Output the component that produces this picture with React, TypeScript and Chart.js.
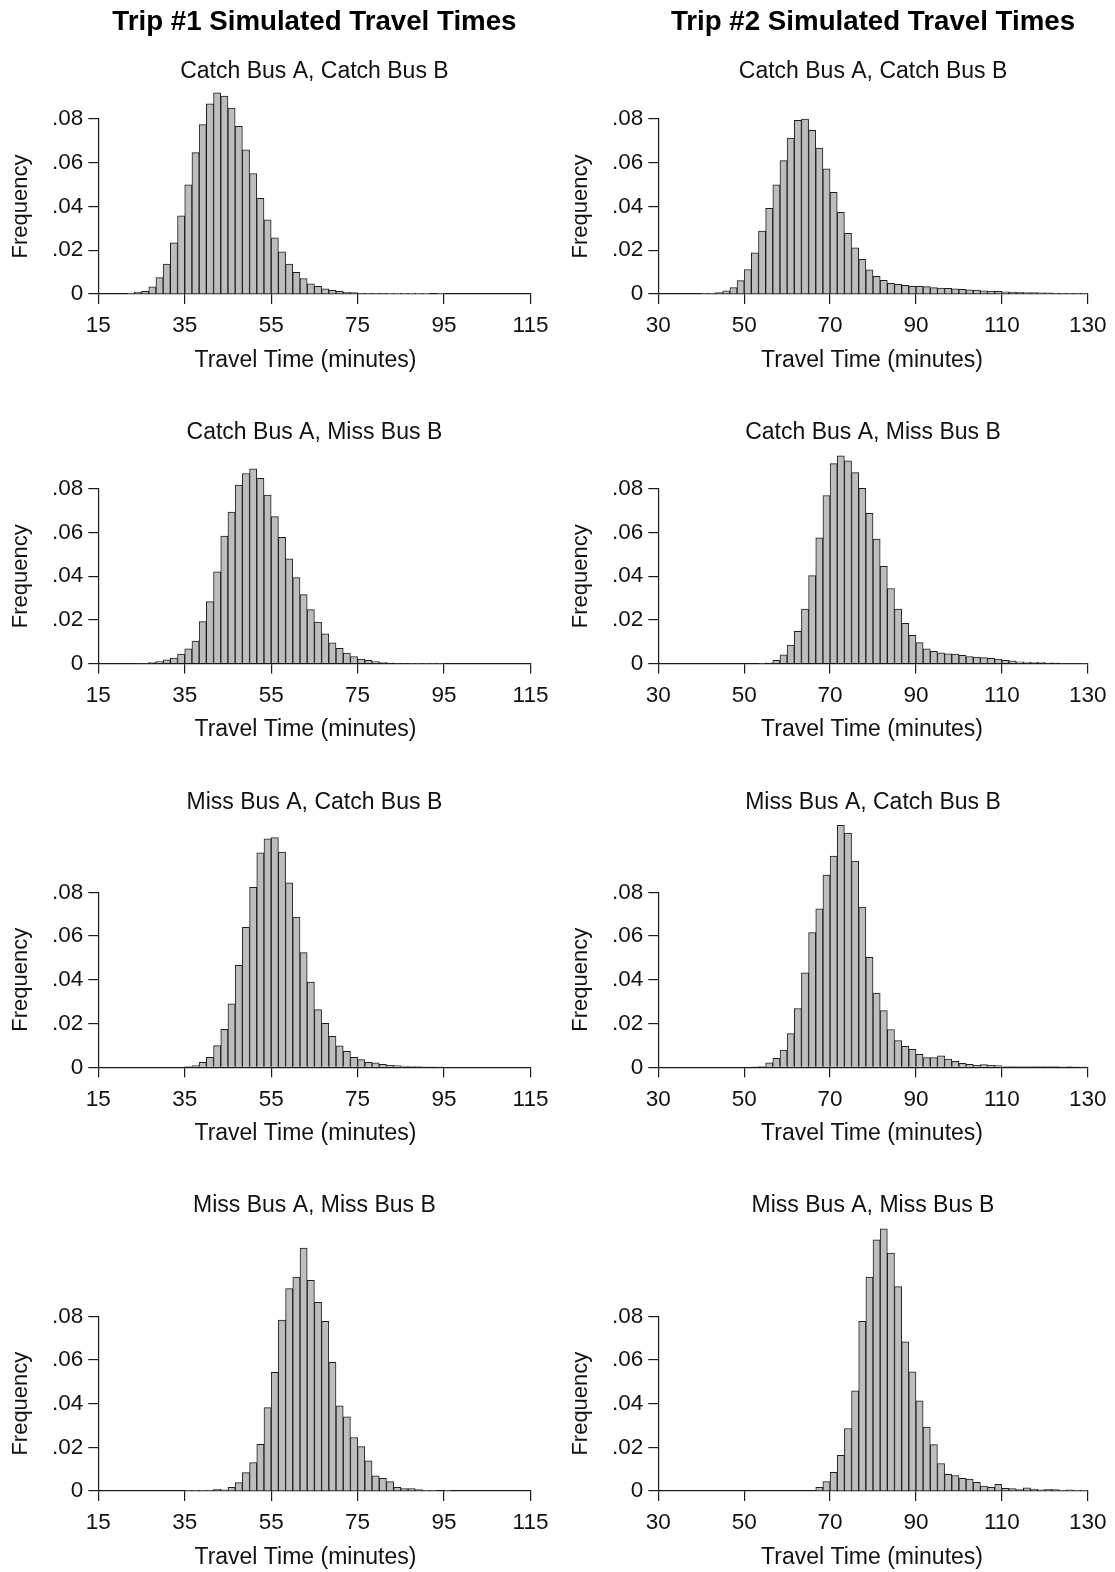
import React, { useEffect, useRef } from 'react';
import { Chart, registerables } from 'chart.js';

Chart.register(...registerables);

// ---------------- DATA ----------------
const binWidth = 5 / 3; // minutes per histogram bin

const trip1Ticks = [15, 35, 55, 75, 95, 115];
const trip2Ticks = [30, 50, 70, 90, 110, 130];
const freqTicks = [0, 0.02, 0.04, 0.06, 0.08];

const tripTitles = ['Trip #1 Simulated Travel Times', 'Trip #2 Simulated Travel Times'];
const scenarios = [
  'Catch Bus A, Catch Bus B',
  'Catch Bus A, Miss Bus B',
  'Miss Bus A, Catch Bus B',
  'Miss Bus A, Miss Bus B',
];

// first bin left edge (minutes)
const trip1Starts = [21.667, 23.333, 35, 35];
const trip2Starts = [40, 53.333, 51.667, 66.667];

const trip1CatchCatch = [
  0.0002, 0.0008, 0.0012, 0.0033, 0.0075, 0.0137, 0.0234, 0.0357, 0.0499, 0.0646,
  0.0774, 0.0869, 0.0920, 0.0905, 0.0850, 0.0767, 0.0659, 0.0551, 0.0437, 0.0339,
  0.0257, 0.0193, 0.0137, 0.0099, 0.0071, 0.0047, 0.0035, 0.0024, 0.0017, 0.0012,
  0.0008, 0.0006, 0.0003, 0.0003, 0.0002, 0.0002, 0.0001, 0.0001, 0.0001, 0.0001,
  0.0001, 0.0001, 0.0, 0.0001,
];
const trip1CatchMiss = [
  0.00015, 0.00015, 0.0005, 0.0009, 0.0017, 0.0025, 0.0043, 0.0067, 0.0103, 0.0192,
  0.0284, 0.0420, 0.0584, 0.0694, 0.0818, 0.0871, 0.0892, 0.0849, 0.0772, 0.0673,
  0.0578, 0.0480, 0.0394, 0.0316, 0.0247, 0.0190, 0.0136, 0.0095, 0.0070, 0.0048,
  0.0032, 0.0020, 0.0014, 0.0009, 0.0005, 0.0003, 0.0002, 0.0002, 0.0001, 0.0001,
  0.0001, 0.0001, 0.0001,
];
const trip1MissCatch = [
  0.0003, 0.0008, 0.0023, 0.0046, 0.0099, 0.0174, 0.0290, 0.0466, 0.0640, 0.0823,
  0.0981, 0.1044, 0.1050, 0.0984, 0.0843, 0.0687, 0.0524, 0.0390, 0.0264, 0.0201,
  0.0142, 0.0098, 0.0073, 0.0046, 0.0035, 0.0023, 0.0020, 0.0014, 0.0009, 0.0008,
  0.0006, 0.0005, 0.0003, 0.0002, 0.0002, 0.0001,
];
const trip1MissMiss = [
  0.0002, 0.0002, 0.0003, 0.0003, 0.0008, 0.0005, 0.0017, 0.0038, 0.0084, 0.0130,
  0.0214, 0.0382, 0.0543, 0.0783, 0.0927, 0.0980, 0.1112, 0.0965, 0.0864, 0.0777,
  0.0589, 0.0390, 0.0340, 0.0245, 0.0203, 0.0138, 0.0070, 0.0058, 0.0043, 0.0017,
  0.0011, 0.0011, 0.0006, 0.0003, 0.0002, 0.0, 0.0003,
];

const trip2CatchCatch = [
  0.0002, 0.0003, 0.0006, 0.0015, 0.0029, 0.0061, 0.0112, 0.0188, 0.0288, 0.0392,
  0.0499, 0.0610, 0.0713, 0.0794, 0.0800, 0.0748, 0.0667, 0.0572, 0.0465, 0.0373,
  0.0277, 0.0211, 0.0158, 0.0110, 0.0081, 0.0063, 0.0049, 0.0044, 0.0040, 0.0035,
  0.0035, 0.0034, 0.0029, 0.0027, 0.0026, 0.0024, 0.0021, 0.0019, 0.0018, 0.0015,
  0.0013, 0.0012, 0.0010, 0.0009, 0.0008, 0.0007, 0.0006, 0.0005, 0.0005, 0.0004,
  0.0003, 0.0003, 0.0002, 0.0002,
];
const trip2CatchMiss = [
  0.0001, 0.0003, 0.0015, 0.0040, 0.0084, 0.0148, 0.0249, 0.0403, 0.0576, 0.0770,
  0.0916, 0.0952, 0.0929, 0.0875, 0.0803, 0.0688, 0.0570, 0.0446, 0.0344, 0.0249,
  0.0184, 0.0129, 0.0096, 0.0067, 0.0056, 0.0049, 0.0044, 0.0043, 0.0038, 0.0032,
  0.0030, 0.0027, 0.0024, 0.0020, 0.0015, 0.0012, 0.0008, 0.0006, 0.0005, 0.0005,
  0.0003, 0.0003, 0.0002, 0.0002, 0.0002, 0.0001,
];
const trip2MissCatch = [
  0.0002, 0.0005, 0.0021, 0.0041, 0.0079, 0.0154, 0.0269, 0.0432, 0.0616, 0.0724,
  0.0879, 0.0966, 0.1106, 0.1071, 0.0943, 0.0733, 0.0503, 0.0339, 0.0259, 0.0173,
  0.0122, 0.0096, 0.0082, 0.0059, 0.0044, 0.0044, 0.0053, 0.0038, 0.0027, 0.0018,
  0.0014, 0.0009, 0.0012, 0.0009, 0.0008, 0.0003, 0.0005, 0.0003, 0.0003, 0.0003,
  0.0005, 0.0003, 0.0005, 0.0002, 0.0003, 0.0002, 0.0001,
];
const trip2MissMiss = [
  0.0017, 0.0043, 0.0085, 0.0163, 0.0286, 0.0459, 0.0777, 0.0980, 0.1150, 0.1201,
  0.1090, 0.0936, 0.0683, 0.0546, 0.0413, 0.0293, 0.0212, 0.0126, 0.0076, 0.0071,
  0.0058, 0.0055, 0.0040, 0.0023, 0.0017, 0.0030, 0.0012, 0.0011, 0.0006, 0.0014,
  0.0009, 0.0005, 0.0008, 0.0006, 0.0003, 0.0005, 0.0003, 0.0002,
];

const trip1Series = [trip1CatchCatch, trip1CatchMiss, trip1MissCatch, trip1MissMiss];
const trip2Series = [trip2CatchCatch, trip2CatchMiss, trip2MissCatch, trip2MissMiss];

// ---------------- LAYOUT ----------------
const FONT = '"Liberation Sans", Arial, Helvetica, sans-serif';
const TEXT = '#111111';
const AXIS = '#1a1a1a';
const BAR_FILL = '#bdbdbd';
const BAR_EDGE = '#1e1e1e';

const ROWS = [
  { sub: 72, top: 119, base: 294 },
  { sub: 433, top: 489, base: 663.5 },
  { sub: 803, top: 892.3, base: 1067.3 },
  { sub: 1206, top: 1316.3, base: 1491 },
];
const COLS = [
  { left: 0, width: 557, right: 530.5, xTitleShift: -9 },
  { left: 560, width: 555, right: 1090, xTitleShift: -1 },
];
const HEADER_Y = 22;
const HEAD_SIZE = 27.7;
const SUB_SIZE = 23;
const TICK_SIZE = 22.5;
const XTITLE_SIZE = 23;
const YTITLE_SIZE = 22;
const YW = 98.3;
const XH = 80.3;
const TICK_LEN = 10;

type PanelProps = { row: number; col: number };

function Panel({ row, col }: PanelProps) {
  const ref = useRef<HTMLCanvasElement | null>(null);
  const g = ROWS[row];
  const c = COLS[col];
  const subLH = SUB_SIZE * 1.2;
  const headLH = HEAD_SIZE * 1.2;
  let top: number;
  let headPadTop = 0;
  let subPadTop: number;
  if (row === 0) {
    top = 0;
    headPadTop = HEADER_Y - headLH / 2 - top;
    const subTop = top + headPadTop + headLH;
    subPadTop = g.sub - subLH / 2 - subTop;
  } else {
    top = Math.floor(g.sub - subLH / 2 - 8);
    subPadTop = g.sub - subLH / 2 - top;
  }
  const subPadBottom = g.top - g.sub - subLH / 2;
  const height = Math.min(1572 - top, Math.ceil(g.base + XH - top) + 1);
  const padBottom = top + height - g.base - XH;
  const padRight = c.left + c.width - c.right;

  useEffect(() => {
    const canvas = ref.current;
    if (!canvas) return;
    const freq = col === 0 ? trip1Series[row] : trip2Series[row];
    const start = col === 0 ? trip1Starts[row] : trip2Starts[row];
    const xt = col === 0 ? trip1Ticks : trip2Ticks;
    const points = freq.map((f, i) => ({ x: start + (i + 0.5) * binWidth, y: f }));

    const gridOpts = {
      display: true,
      drawOnChartArea: false,
      drawTicks: true,
      tickLength: TICK_LEN,
      color: AXIS,
      lineWidth: 1.2,
      offset: false,
    };
    const borderOpts = { display: true, color: AXIS, width: 1.2 };

    // nudges the x-axis title horizontally, as in the reference layout
    const xTitleShiftPlugin = {
      id: 'xTitleShift',
      afterLayout(ch: any) {
        const s = ch.scales.x;
        if (!s || s.__shifted) return;
        const orig = s.drawTitle.bind(s);
        s.drawTitle = function () {
          ch.ctx.save();
          ch.ctx.translate(c.xTitleShift, 0);
          orig();
          ch.ctx.restore();
        };
        s.__shifted = true;
      },
    };

    const chart = new Chart(canvas, {
      type: 'bar',
      data: {
        datasets: [
          {
            data: points as any,
            backgroundColor: BAR_FILL,
            borderColor: BAR_EDGE,
            borderWidth: 1,
            categoryPercentage: 1,
            barPercentage: 1,
            clip: false as any,
          },
        ],
      },
      plugins: [xTitleShiftPlugin as any],
      options: {
        animation: false,
        responsive: false,
        devicePixelRatio: 1,
        events: [],
        font: { family: FONT } as any,
        layout: { padding: { left: 0, top: 0, right: padRight, bottom: padBottom } },
        plugins: {
          legend: { display: false },
          tooltip: { enabled: false },
          title: {
            display: row === 0,
            text: tripTitles[col],
            fullSize: false,
            color: '#000',
            font: { family: FONT, size: HEAD_SIZE, weight: 'bold' },
            padding: { top: headPadTop, bottom: 0 },
          },
          subtitle: {
            display: true,
            text: scenarios[row],
            fullSize: false,
            color: TEXT,
            font: { family: FONT, size: SUB_SIZE, weight: 'normal' },
            padding: { top: subPadTop, bottom: subPadBottom },
          },
        },
        scales: {
          x: {
            type: 'linear',
            min: xt[0],
            max: xt[xt.length - 1],
            offset: false,
            z: 1,
            afterBuildTicks: (s: any) => {
              s.ticks = xt.map((v) => ({ value: v }));
            },
            afterFit: (s: any) => {
              s.height = XH;
            },
            grid: gridOpts,
            border: borderOpts,
            ticks: {
              color: TEXT,
              font: { family: FONT, size: TICK_SIZE },
              padding: 8.5,
              maxRotation: 0,
              autoSkip: false,
              callback: (v: any) => String(v),
            },
            title: {
              display: true,
              text: 'Travel Time (minutes)',
              color: TEXT,
              font: { family: FONT, size: XTITLE_SIZE },
              padding: { top: 0, bottom: 0 },
            },
          },
          y: {
            type: 'linear',
            min: 0,
            max: 0.08,
            z: 1,
            afterBuildTicks: (s: any) => {
              s.ticks = freqTicks.map((v) => ({ value: v }));
            },
            afterFit: (s: any) => {
              s.width = YW;
            },
            grid: gridOpts,
            border: borderOpts,
            ticks: {
              color: TEXT,
              font: { family: FONT, size: TICK_SIZE },
              padding: 5,
              autoSkip: false,
              callback: (v: any) =>
                Number(v) === 0 ? '0' : '.' + String(Math.round(Number(v) * 100)).padStart(2, '0'),
            },
            title: {
              display: true,
              text: 'Frequency',
              color: TEXT,
              font: { family: FONT, size: YTITLE_SIZE },
              padding: { top: 7.5, bottom: 0 },
            },
          },
        },
      } as any,
    });
    return () => chart.destroy();
  }, [row, col]);

  return (
    <canvas
      ref={ref}
      width={c.width}
      height={height}
      style={{ position: 'absolute', left: c.left, top, width: c.width, height }}
    />
  );
}

export default function App() {
  const panels: PanelProps[] = [];
  for (let r = 0; r < 4; r++) for (let c = 0; c < 2; c++) panels.push({ row: r, col: c });
  return (
    <div
      style={{
        position: 'absolute',
        left: 0,
        top: 0,
        width: 1115,
        height: 1572,
        background: '#ffffff',
        overflow: 'hidden',
      }}
    >
      {panels.map((p) => (
        <Panel key={`${p.row}-${p.col}`} row={p.row} col={p.col} />
      ))}
    </div>
  );
}
